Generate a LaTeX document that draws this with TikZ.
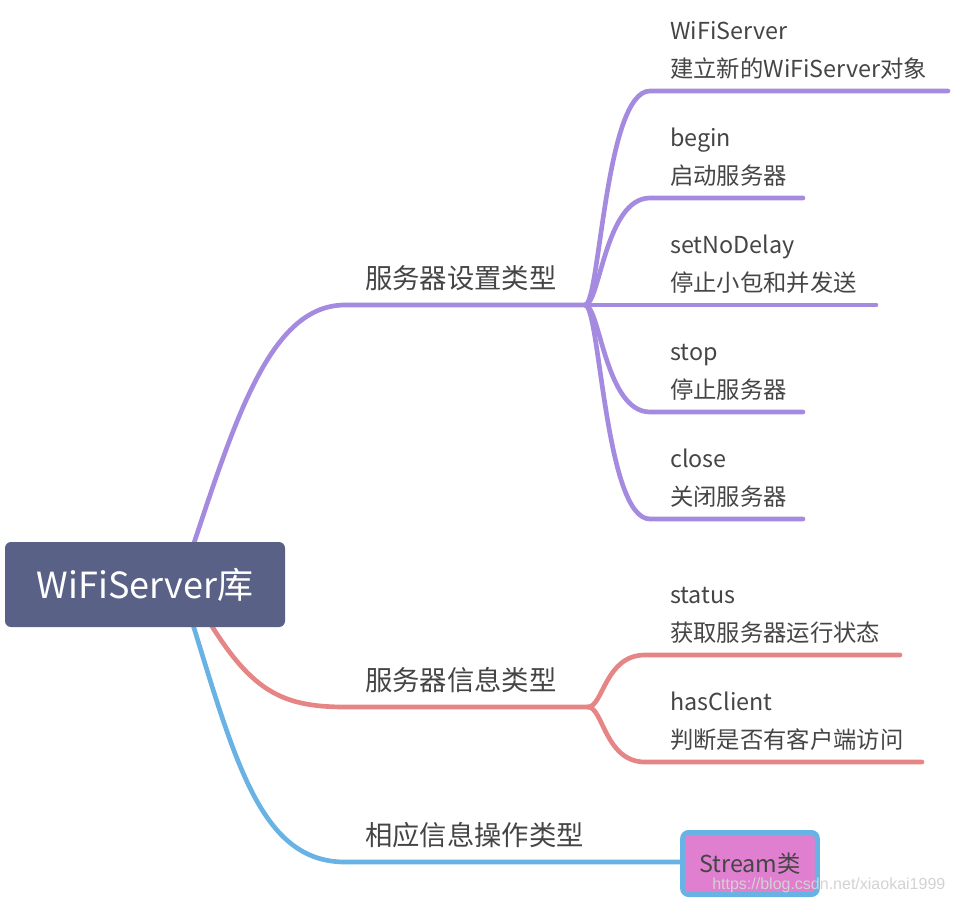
\documentclass[tikz,border=0pt]{standalone}
\usepackage{fontspec}
\setmainfont{Noto Sans CJK SC}
\newfontfamily\wmfont{Liberation Sans}
\definecolor{rootbg}{HTML}{5A6187}
\definecolor{setcol}{HTML}{A58BE0}
\definecolor{infocol}{HTML}{E68585}
\definecolor{opcol}{HTML}{68B2E4}
\definecolor{streambg}{HTML}{E07FD0}
\definecolor{txtcol}{HTML}{454545}
\begin{document}
\begin{tikzpicture}[x=0.75pt,y=-0.75pt,
				every node/.style={text=txtcol,inner sep=0pt,anchor=base west},
				rootbox/.style={fill=rootbg,rounded corners=4.5pt,minimum width=210pt,minimum height=63.75pt,text=white,font=\fontsize{27}{27}\selectfont,anchor=center},
				branch/.style={font=\fontsize{20.5}{20.5}\selectfont},
				leaf/.style={font=\fontsize{17.5}{17.5}\selectfont},
				streambox/.style={draw=opcol,line width=3.75pt,fill=streambg,rounded corners=4.5pt,minimum width=101pt,minimum height=46.5pt,font=\fontsize{17.5}{17.5}\selectfont,anchor=center},
				conn/.style={line width=3.5pt,line cap=round}]
\useasboundingbox (0,0) rectangle (954,900);
\coordinate (setfork) at (585,305);
\coordinate (infofork) at (588,707);
% root to main branches
\draw[conn,setcol] (190,555) .. controls (235,420) and (270,305) .. (345,305) -- (setfork);
\draw[conn,infocol] (205,615) .. controls (250,690) and (280,707) .. (345,707) -- (infofork);
\draw[conn,opcol] (190,615) .. controls (235,760) and (260,862) .. (345,862) -- (680,862);
\node[rootbox] (root) at (145,584.5) {WiFiServer库};
\node[branch] (setlabel) at (365,288.5) {服务器设置类型};
\node[branch] (infolabel) at (365,690.5) {服务器信息类型};
\node[branch] (oplabel) at (365,845.5) {相应信息操作类型};
% setting leaves
\foreach \i/\y/\x/\name/\desc in {1/91/948/WiFiServer/建立新的WiFiServer对象,
				2/198/803/begin/启动服务器,
				3/305/876/setNoDelay/停止小包和并发送,
				4/412/803/stop/停止服务器,
				5/519/803/close/关闭服务器}{
	\coordinate (sets\i) at (650,\y);
	\coordinate (sete\i) at (\x,\y);
	\draw[conn,setcol] (setfork) .. controls +(15,0) and (605,\y) .. (sets\i) -- (sete\i);
	\node[leaf] (setname\i) at (670,\y-52) {\name};
	\node[leaf] (setdesc\i) at (670,\y-14) {\desc};
}
% info leaves
\foreach \i/\y/\x/\name/\desc in {1/655/900/status/获取服务器运行状态,
				2/762/922/hasClient/判断是否有客户端访问}{
	\coordinate (infos\i) at (645,\y);
	\coordinate (infoe\i) at (\x,\y);
	\draw[conn,infocol] (infofork) .. controls +(15,0) and (605,\y) .. (infos\i) -- (infoe\i);
	\node[leaf] (infoname\i) at (670,\y-52) {\name};
	\node[leaf] (infodesc\i) at (670,\y-14) {\desc};
}
\node[streambox] (stream) at (750,863.5) {Stream类};
\node[text=gray!35,font=\wmfont\fontsize{12}{12}\selectfont] (wm) at (712,889) {https://blog.csdn.net/xiaokai1999};
\end{tikzpicture}
\end{document}
